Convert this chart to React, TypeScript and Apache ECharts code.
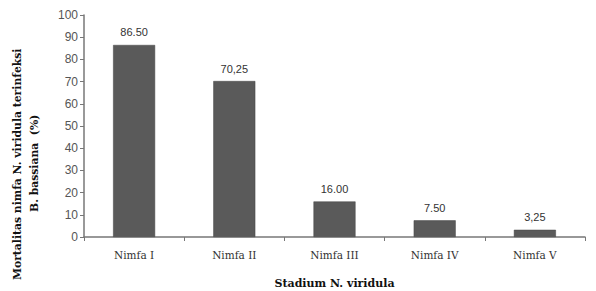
import React, { useEffect, useRef } from "react";
import * as echarts from "echarts";

const categories = ["Nimfa I", "Nimfa II", "Nimfa III", "Nimfa IV", "Nimfa V"];
const values = [86.5, 70.25, 16.0, 7.5, 3.25];
const valueLabels = ["86.50", "70,25", "16.00", "7.50", "3,25"];
const yTitleLines = ["Mortalitas nimfa N. viridula terinfeksi", "B. bassiana  (%)"];
const xTitle = "Stadium N. viridula";

export default function App() {
  const ref = useRef<HTMLDivElement>(null);
  useEffect(() => {
    if (!ref.current) return;
    const chart = echarts.init(ref.current, null, { renderer: "svg" });
    const titleStyle = { fontFamily: "DejaVu Serif", fontWeight: "bold", fontSize: 10.8, fill: "#111", align: "left", verticalAlign: "middle" };
    chart.setOption({
      animation: false,
      backgroundColor: "#ffffff",
      grid: { left: 84, right: 11, top: 15, bottom: 54, containLabel: false, outerBoundsMode: "none" },
      graphic: [
        { type: "text", x: 17, y: 280, rotation: Math.PI / 2, style: { ...titleStyle, text: yTitleLines[0] } },
        { type: "text", x: 34, y: 212, rotation: Math.PI / 2, style: { ...titleStyle, text: yTitleLines[1] } },
      ],
      xAxis: {
        type: "category",
        data: categories,
        axisLine: { lineStyle: { color: "#777", width: 1.5 } },
        axisTick: { show: true, alignWithLabel: false, length: 4, lineStyle: { color: "#777" } },
        axisLabel: { color: "#333", fontFamily: "DejaVu Serif", fontSize: 10.5, margin: 12 },
        name: xTitle,
        nameLocation: "middle",
        nameGap: 41,
        nameTextStyle: { fontFamily: "DejaVu Serif", fontWeight: "bold", fontSize: 11, color: "#111" },
      },
      yAxis: {
        type: "value",
        min: 0,
        max: 100,
        interval: 10,
        axisLine: { show: true, lineStyle: { color: "#777", width: 1.5 } },
        axisTick: { show: true, length: 4, lineStyle: { color: "#777" } },
        splitLine: { show: false },
        axisLabel: { color: "#555", fontFamily: "Liberation Sans", fontSize: 12, margin: 6 },
      },
      series: [
        {
          type: "bar",
          data: values,
          barWidth: 42,
          itemStyle: { color: "#5a5a5a", borderColor: "#444", borderWidth: 0.5 },
          label: {
            show: true,
            position: "top",
            distance: 7,
            color: "#333",
            fontFamily: "Liberation Sans",
            fontSize: 11,
            formatter: (p: any) => valueLabels[p.dataIndex],
          },
        },
      ],
    });
    return () => chart.dispose();
  }, []);
  return <div ref={ref} style={{ width: 596, height: 291, position: "absolute", left: 0, top: 0 }} />;
}
